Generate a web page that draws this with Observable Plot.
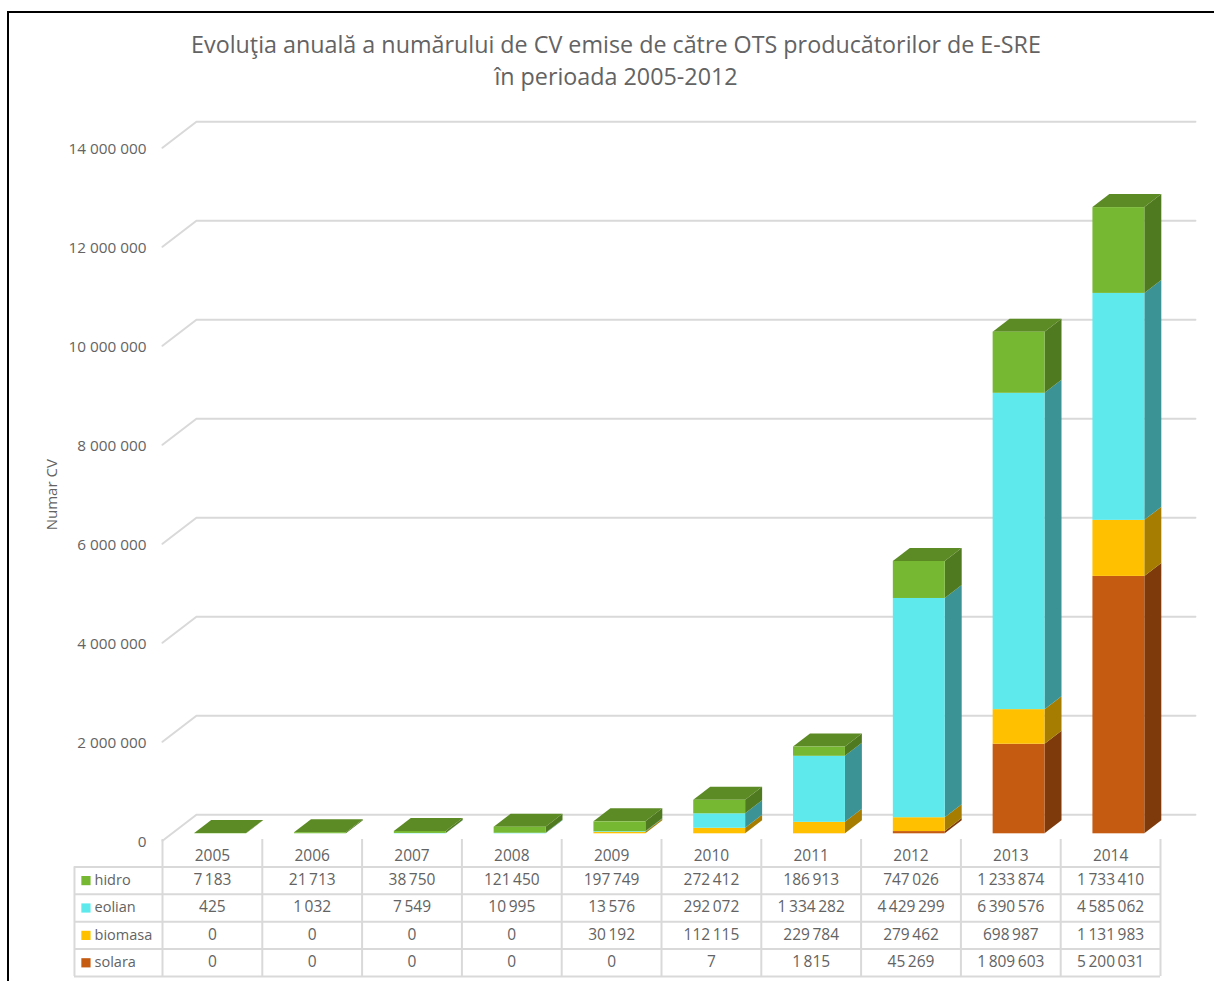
<!DOCTYPE html>
<html><head><meta charset="utf-8">
<script src="https://cdn.jsdelivr.net/npm/d3@7"></script>
<script src="https://cdn.jsdelivr.net/npm/@observablehq/plot@0.6"></script>
<style>
html,body{margin:0;padding:0;background:#fff;}
#page{position:relative;width:1214px;height:981px;overflow:hidden;font-family:"Open Sans",sans-serif;color:#636363;}
#bl{position:absolute;left:7px;top:11px;width:2px;height:970px;background:#000;}
#bt{position:absolute;left:7px;top:11px;width:1207px;height:2px;background:#000;}
#title{position:absolute;left:16px;top:28px;width:1200px;text-align:center;font-size:23.3px;line-height:32px;height:72px;}
#chart{position:absolute;left:0;top:100px;}
#table{position:absolute;left:0;top:839px;}
svg{display:block;}
</style></head><body>
<div id="page"><div id="title">Evoluţia anuală a numărului de CV emise de către OTS producătorilor de E-SRE<br>în perioada 2005-2012</div>
<div id="chart"></div><div id="table"></div><div id="bl"></div><div id="bt"></div></div>
<script>
const years=[2005,2006,2007,2008,2009,2010,2011,2012,2013,2014];
const hidro=[7183,21713,38750,121450,197749,272412,186913,747026,1233874,1733410];
const eolian=[425,1032,7549,10995,13576,292072,1334282,4429299,6390576,4585062];
const biomasa=[0,0,0,0,30192,112115,229784,279462,698987,1131983];
const solara=[0,0,0,0,0,7,1815,45269,1809603,5200031];
const yTicks=[0,2000000,4000000,6000000,8000000,10000000,12000000,14000000];
const seriesNames=["solara","biomasa","eolian","hidro"];
const seriesValues={solara,biomasa,eolian,hidro};
const frontColor={solara:"#C55A11",biomasa:"#FFC000",eolian:"#5EEAEC",hidro:"#76B831"};
const sideColor={solara:"#7F3A0B",biomasa:"#A67D00",eolian:"#3B9396",hidro:"#4F7A1F"};
const topColor="#5C8A24";
const rowNames=["hidro","eolian","biomasa","solara"];
const textFill="#636363",font="Open Sans";

const fmt=v=>d3.format(",")(v).replace(/,/g,"\u2009");
const fmtTick=v=>d3.format(",")(v).replace(/,/g," ");
const barL=-0.177,barR=0.343,depX=0.17,depY=262600,wallFront=-141000,wallBack=384000;
const xOpt={domain:[-0.5,9.5],range:[162,1160]};
const segs=[];
years.forEach((yr,i)=>{let acc=0;for(const s of seriesNames){const v=seriesValues[s][i];segs.push({i,s,y1:acc,y2:acc+v});acc+=v;}});
const sidePts=segs.filter(d=>d.y2>d.y1).flatMap(d=>[
 {k:d.i+d.s,s:d.s,x:d.i+barR,y1:d.y1,y2:d.y2},
 {k:d.i+d.s,s:d.s,x:d.i+barR+depX,y1:d.y1+depY,y2:d.y2+depY}]);
const tops=years.flatMap((yr,i)=>{const t=seriesNames.reduce((a,s)=>a+seriesValues[s][i],0);return [
 {i,y:t,x1:i+barL,x2:i+barR},{i,y:t+depY,x1:i+barL+depX,x2:i+barR+depX}];});
const wall=yTicks.flatMap(v=>[
 {v,x:-0.5,y:v+wallFront},{v,x:-0.16,y:v+wallBack},{v,x:9.85,y:v+wallBack}]);

const main=Plot.plot({width:1214,height:760,marginLeft:146,marginRight:0,marginTop:0,marginBottom:0,
 style:{background:"transparent"},
 x:{...xOpt,axis:null},
 y:{domain:[0,14000000],range:[733.3,40.3]},
 marks:[
  Plot.line(wall,{x:"x",y:"y",z:"v",stroke:"#D9D9D9",strokeWidth:2,curve:"linear"}),
  Plot.axisY(yTicks,{y:d=>d-161000,text:d=>fmtTick(d),tickSize:0,tickPadding:0,anchor:"left",label:null,fontSize:15.3,fill:textFill,fontFamily:font}),
  Plot.text(["Numar CV"],{x:()=>-1.602,y:()=>6850000,rotate:-90,fontSize:15,fill:textFill,fontFamily:font}),
  Plot.areaY(sidePts,{x:"x",y1:"y1",y2:"y2",z:"k",fill:d=>sideColor[d.s]}),
  Plot.areaX(tops,{y:"y",x1:"x1",x2:"x2",z:"i",fill:topColor}),
  Plot.rect(segs.filter(d=>d.y2>d.y1),{x1:d=>d.i+barL,x2:d=>d.i+barR,y1:"y1",y2:"y2",fill:d=>frontColor[d.s]})
 ]});
document.getElementById("chart").append(main);

const cells=rowNames.flatMap((s,r)=>years.map((yr,i)=>({r,i,t:fmt(seriesValues[s][i])})));
const colEdges=d3.range(-0.5,10,1);
const tbl=Plot.plot({width:1214,height:142,margin:0,
 style:{background:"transparent"},
 x:{...xOpt,axis:null},
 y:{domain:[0,5],range:[0,137],axis:null},
 marks:[
  Plot.ruleX(colEdges,{x:d=>d,y1:0,y2:5,stroke:"#D9D9D9",strokeWidth:2}),
  Plot.ruleX([-1.382],{y1:1,y2:5,stroke:"#D9D9D9",strokeWidth:2}),
  Plot.ruleY([1,2,3,4,5],{y:d=>d,x1:-1.382,x2:9.5,stroke:"#D9D9D9",strokeWidth:2}),
  Plot.text(years,{x:(d,i)=>i,y:()=>0.5,text:d=>String(d),dy:3,fontSize:15.5,fill:textFill,fontFamily:font}),
  Plot.text(cells,{x:"i",y:d=>d.r+1.5,text:"t",dy:-0.5,fontSize:15.5,fill:textFill,fontFamily:font}),
  Plot.dot(rowNames,{x:()=>-1.267,y:(d,r)=>r+1.5,symbol:"square",r:5.2,fill:d=>frontColor[d]}),
  Plot.text(rowNames,{x:()=>-1.181,y:(d,r)=>r+1.5,text:d=>d,dy:-0.5,textAnchor:"start",fontSize:14.5,fill:textFill,fontFamily:font})
 ]});
document.getElementById("table").append(tbl);
</script></body></html>
